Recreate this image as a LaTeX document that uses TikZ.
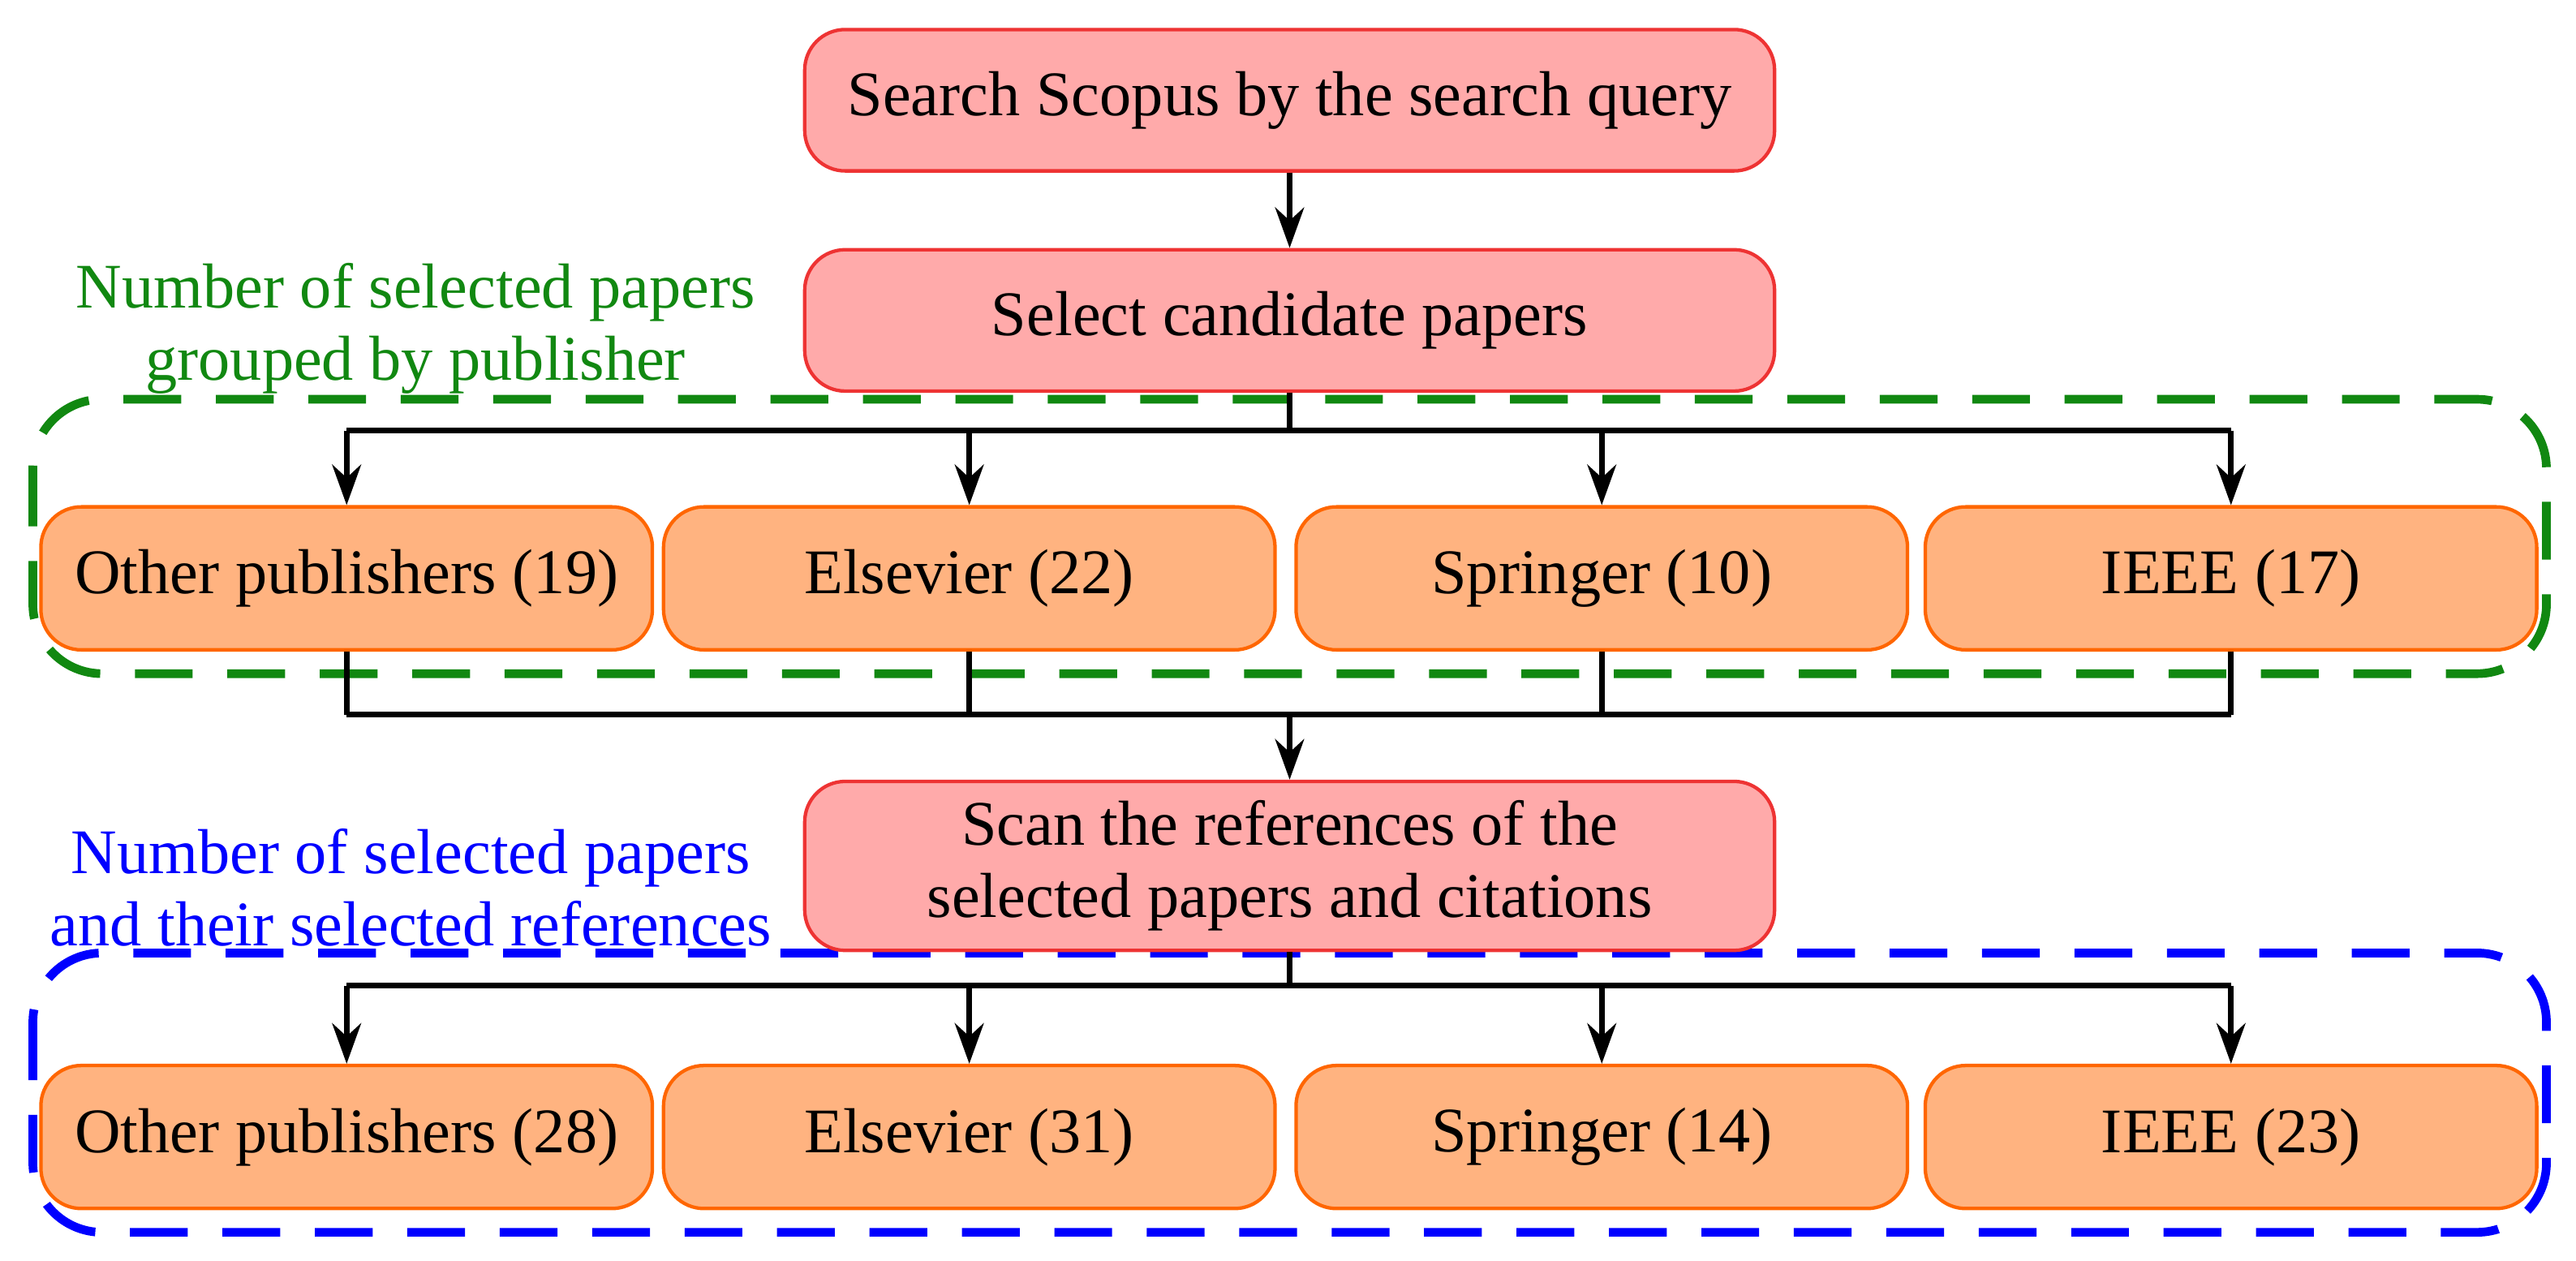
\documentclass[tikz,border=0pt]{standalone}
\usepackage{fontspec}
\setmainfont{Liberation Serif}
\usetikzlibrary{arrows.meta}
\definecolor{pinkf}{HTML}{FFAAAA}
\definecolor{pinkd}{HTML}{EE3333}
\definecolor{orf}{HTML}{FFB380}
\definecolor{ord}{HTML}{FF6600}
\definecolor{grn}{HTML}{118811}
\begin{document}
\begin{tikzpicture}[x=0.01cm,y=-0.01cm,
  font=\fontsize{11}{12.5}\selectfont,
  stepbox/.style={draw=pinkd,fill=pinkf,rounded corners=7pt,minimum width=5.9cm,minimum height=0.86cm,align=center,line width=0.6pt},
  pub/.style={draw=ord,fill=orf,rounded corners=7pt,minimum width=3.72cm,minimum height=0.87cm,line width=0.6pt},
  arr/.style={-{Stealth[length=7pt,width=5pt]},line width=1pt},
  ln/.style={line width=1pt},
  grp/.style={line width=1.5pt,rounded corners=12pt,dash pattern=on 10pt off 6pt}]
\useasboundingbox (0,0) rectangle (1568,767);
\draw[grp,draw=grn] (20,243) rectangle (1550,410);
\draw[grp,draw=blue] (20,580) rectangle (1550,750);
\node[stepbox] (s1) at (785,61) {Search Scopus by the search query};
\node[stepbox] (s2) at (785,195) {Select candidate papers};
\node[stepbox] (s3) at (785,527) {Scan the references of the\\selected papers and citations};
\node[text=grn,align=center] (g) at (253,200) {Number of selected papers\\grouped by publisher};
\node[text=blue,align=center] (b) at (250,540) {Number of selected papers\\and their selected references};
\foreach \n/\x/\t/\u in {a/211/Other publishers (19)/Other publishers (28),b/590/Elsevier (22)/Elsevier (31),c/975/Springer (10)/Springer (14),d/1358/IEEE (17)/IEEE (23)}{
  \node[pub] (p\n) at (\x,352) {\t};
  \node[pub] (q\n) at (\x,692) {\u};
}
\coordinate (j1) at (785,262);
\coordinate (j2) at (785,435);
\coordinate (j3) at (785,600);
\draw[arr] (s1) -- (s2);
\draw[ln] (s2) -- (j1);
\draw[ln] (pa.north|-j1) -- (pd.north|-j1);
\foreach \n in {a,b,c,d}{
  \draw[arr] (p\n.north|-j1) -- (p\n.north);
  \draw[ln] (p\n.south) -- (p\n.south|-j2);
  \draw[arr] (q\n.north|-j3) -- (q\n.north);
}
\draw[ln] (pa.south|-j2) -- (pd.south|-j2);
\draw[arr] (j2) -- (s3);
\draw[ln] (s3) -- (j3);
\draw[ln] (qa.north|-j3) -- (qd.north|-j3);
\end{tikzpicture}
\end{document}
